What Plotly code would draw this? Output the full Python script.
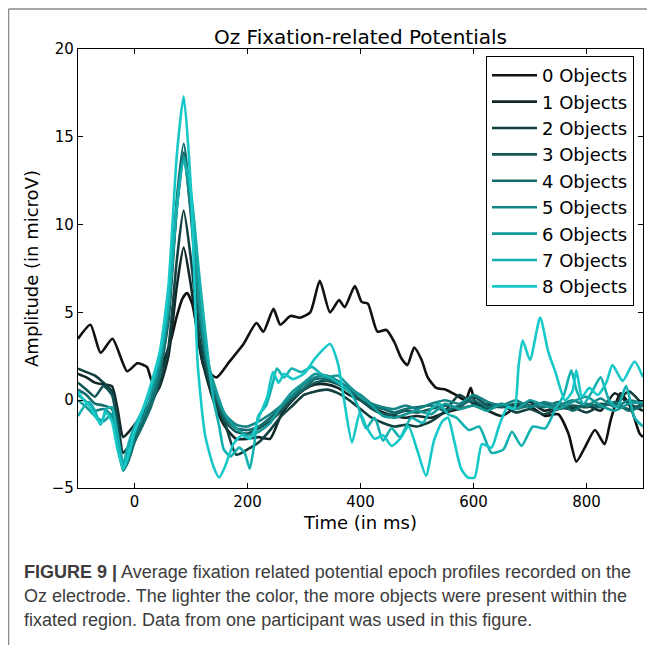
import plotly.graph_objects as go

t_obj0 = [-100, -78, -60, -39, -13, 5, 22, 31, 43, 55, 65, 75, 85, 93, 102, 112, 123, 145, 168, 193,
          216, 228, 246, 258, 276, 293, 311, 328, 346, 362, 372, 390, 402, 413, 430, 446, 460, 472,
          483, 495, 508, 519, 534, 551, 569, 586, 595, 604, 615, 632, 657, 680, 703, 727, 750, 768,
          782, 797, 815, 832, 843, 860, 878, 894, 900]
amp_obj0 = [3.5, 4.3, 2.7, 3.5, 1.65, 2.1, 1.9, 1.1, 1.5, 2.5, 3.5, 4.8, 5.8, 6.1, 5.5, 3.8, 1.9, 1.3, 2.2, 3.2,
            4.4, 3.9, 5.2, 4.3, 4.8, 4.7, 5.0, 6.8, 5.0, 5.7, 5.3, 6.5, 5.6, 5.5, 3.9, 4.0, 3.3, 2.4,
            2.0, 3.0, 2.3, 1.3, 0.7, 0.6, 0.3, 0.0, 0.7, -0.2, -0.3, -0.2, -0.4, -0.2, -0.4, -0.9, -0.8, -1.9,
            -3.5, -2.7, -1.7, -2.5, -1.1, 0.4, -0.4, -1.9, -2.1]

# shared time grid for the smoother middle curves
t_grid = [-100, -85, -70, -55, -40, -30, -20, -10, 0, 15, 30, 45, 60, 75, 87, 100, 115, 130, 145, 160,
          180, 200, 220, 240, 260, 280, 300, 320, 340, 360, 380, 400, 420, 440, 460, 480, 500, 525,
          550, 575, 600, 625, 650, 675, 700, 725, 750, 775, 800, 825, 850, 875, 900]

amp_obj1 = [1.5, 1.3, 1.0, 0.9, 0.8, -0.5, -2.1, -1.8, -1.4, -0.8, 0.0, 0.8, 2.5, 6.5, 8.7, 6.5, 3.0, 1.0, -0.5, -1.5,
            -2.2, -2.2, -2.1, -2.2, -0.8, 0.0, 0.6, 0.9, 0.9, 0.7, 0.3, 0.0, -0.4, -0.7, -0.9, -1.0, -0.9, -1.0,
            -0.7, -0.5, -0.3, -0.6, -0.9, -0.4, -0.1, -0.6, -0.4, -0.5, -0.3, -0.6, 0.4, -0.2, -0.6]
amp_obj2 = [1.8, 1.6, 1.4, 1.0, 0.5, -1.0, -3.0, -2.6, -2.0, -1.2, -0.2, 1.0, 3.0, 8.0, 10.8, 8.0, 3.5, 1.2, -0.3, -1.3,
            -3.1, -2.8, -2.4, -1.7, -0.9, -0.3, 0.3, 0.5, 0.6, 0.4, 0.0, -0.5, -1.0, -1.3, -1.5, -1.4, -1.5, -1.2,
            -0.6, 0.3, -0.2, -0.5, -0.3, -0.7, -0.5, -0.8, -0.5, -0.4, -0.7, -0.3, -0.2, 0.5, -0.3]
amp_obj3 = [1.0, 0.6, 0.2, 0.8, 0.3, -1.5, -3.6, -3.0, -2.2, -1.2, 0.0, 1.6, 4.5, 11.0, 14.1, 10.5, 4.5, 1.5, 0.0, -1.2,
            -1.8, -1.9, -1.6, -1.2, -0.6, 0.1, 0.6, 1.0, 1.1, 0.9, 0.5, 0.0, -0.5, -0.8, -0.8, -0.6, -0.7, -0.5,
            -0.3, -0.4, 0.2, -0.3, -0.4, -0.2, -0.3, -0.2, -0.5, -0.3, -0.4, -0.2, -0.3, -0.5, -0.2]
amp_obj4 = [0.6, 0.3, -0.2, -0.3, -0.5, -2.0, -4.0, -3.4, -2.4, -1.4, -0.3, 1.5, 4.8, 11.5, 14.6, 11.0, 5.0, 1.8, 0.2, -1.0,
            -1.6, -1.7, -1.5, -1.0, -0.4, 0.2, 0.7, 1.2, 1.2, 1.0, 0.6, 0.2, -0.3, -0.5, -0.7, -0.5, -0.4, -0.3,
            -0.6, -0.3, 0.0, -0.4, -0.2, -0.5, -0.3, -0.4, -0.1, -0.6, -0.2, -0.4, -0.1, -0.6, -0.3]
amp_obj5 = [0.3, -0.1, -0.6, -0.5, -0.9, -2.4, -3.8, -3.1, -2.0, -1.0, 0.2, 2.0, 5.0, 11.0, 13.7, 10.8, 5.2, 2.0, 0.3, -0.8,
            -1.4, -1.5, -1.2, -0.8, -0.3, 0.3, 0.9, 1.3, 1.4, 1.1, 0.7, 0.3, -0.2, -0.4, -0.5, -0.3, -0.5, -0.2,
            0.0, -0.2, 0.3, -0.1, -0.3, 0.0, -0.4, -0.1, -0.3, 0.0, -0.3, 0.1, -0.4, 0.0, -0.2]
amp_obj6 = [0.0, -0.4, -0.9, -1.2, -0.8, -2.5, -4.0, -3.2, -1.8, -0.6, 0.6, 2.3, 5.5, 11.2, 13.9, 11.5, 5.8, 2.2, 0.5, -0.8,
            -1.6, -2.0, -1.8, -1.3, -0.3, 0.5, 1.0, 1.5, 1.3, 1.4, 0.8, 0.2, -0.3, -0.9, -1.0, -0.8, -0.6, -0.8,
            -0.2, -0.5, -0.3, -0.6, -0.2, -0.5, 0.0, -0.3, -0.5, -0.1, 0.2, -0.3, -0.6, -0.2, -0.1]

# 7 Objects - noisier curve
t_obj7 = [-100, -90, -80, -70, -60, -50, -40, -30, -20, -10, 0, 15, 30, 45, 60, 75, 87, 100, 115, 130,
          140, 150, 158, 170, 185, 195, 204, 212, 219, 233, 245, 252, 265, 278, 295, 314, 330, 345, 360,
          380, 395, 410, 425, 440, 455, 470, 490, 510, 525, 540, 555, 570, 592, 610, 632, 653, 668, 685,
          705, 727, 745, 760, 773, 782, 795, 810, 825, 840, 855, 870, 885, 900]
amp_obj7 = [-0.9, -0.4, -0.1, -0.6, -1.4, -0.5, -0.4, -2.0, -3.6, -2.4, -1.5, -0.5, 0.8, 2.5, 5.5, 11.0, 13.6, 11.8, 7.0, 2.5,
            0.0, -1.5, -2.8, -3.2, -2.7, -3.0, -3.9, -2.5, -0.9, -0.3, 1.0, 1.8, 1.3, 1.8, 1.6, 1.9, 1.5, 1.3, 1.0,
            0.5, -0.3, -1.6, -1.0, -2.3, -1.6, -2.1, -1.0, -1.3, -0.5, -0.2, -0.8, -1.0, -1.7, -1.5, -3.0, -2.8, -1.8, -2.6,
            -1.5, -1.6, -0.5, 0.3, 1.7, 0.6, -0.2, 0.5, 1.3, 0.0, -0.4, 0.8, -1.0, -1.5]

# 8 Objects - lightest, noisiest curve
t_obj8 = [-100, -90, -80, -70, -60, -50, -40, -30, -20, -10, 0, 15, 30, 45, 60, 75, 87, 100, 112, 125,
          140, 150, 160, 175, 190, 205, 220, 235, 245, 255, 265, 280, 300, 320, 346, 360, 372, 385, 399,
          410, 425, 440, 455, 470, 485, 500, 516, 530, 545, 555, 565, 578, 590, 602, 615, 632, 645, 660,
          672, 680, 687, 700, 718, 732, 745, 762, 775, 782, 792, 805, 820, 835, 846, 864, 885, 900]
amp_obj8 = [0.5, 0.0, -0.3, -0.9, -1.3, -0.7, -1.2, -2.8, -3.9, -3.0, -1.8, -0.5, 1.0, 2.8, 6.5, 14.0, 17.3, 12.0, 2.0, -2.0,
            -3.8, -4.4, -3.8, -2.5, -2.0, -2.2, -1.0, 0.2, 1.6, 1.0, 1.5, 1.2, 1.5, 2.4, 3.2, 2.1, -0.2, -2.4, -0.7,
            -1.5, -2.2, -2.0, -2.6, -2.2, -1.5, -2.8, -4.3, -2.3, -1.2, -1.0, -2.2, -3.9, -4.4, -4.4, -2.5, -2.7, -1.5, -0.4,
            -0.5, 2.0, 3.4, 2.3, 4.7, 2.8, 1.6, 0.0, 0.5, 1.7, 0.2, 0.7, 0.3, 1.0, 2.0, 1.1, 2.2, 1.3]

series_names = ['0 Objects', '1 Objects', '2 Objects', '3 Objects', '4 Objects',
                '5 Objects', '6 Objects', '7 Objects', '8 Objects']
series_t = [t_obj0, t_grid, t_grid, t_grid, t_grid, t_grid, t_grid, t_obj7, t_obj8]
series_amp = [amp_obj0, amp_obj1, amp_obj2, amp_obj3, amp_obj4, amp_obj5, amp_obj6, amp_obj7, amp_obj8]

x_ticks = [0, 200, 400, 600, 800]
y_ticks = [-5, 0, 5, 10, 15, 20]

caption_lines = [
    '<b>FIGURE 9 |</b> Average fixation related potential epoch profiles recorded on the',
    'Oz electrode. The lighter the color, the more objects were present within the',
    'fixated region. Data from one participant was used in this figure.',
]


def shade(i, n=8):
    # black -> cyan, lighter means more objects
    f = i / n
    r = round(17 * (1 - f) + 22 * f)
    g = round(17 * (1 - f) + 200 * f)
    return f'rgb({r},{g},{g})'


fig = go.Figure()
for i, (name, t, amp) in enumerate(zip(series_names, series_t, series_amp)):
    fig.add_trace(go.Scatter(
        x=t, y=amp, name=name, mode='lines',
        line=dict(color=shade(i), width=2.6, shape='spline', smoothing=0.6)
    ))

# page has an 8px body margin; work in page pixels and convert
OFF = 8
FW, FH = 647, 637
L, T = 78 - OFF, 49 - OFF
W, H = 565, 439


def px_x(x):
    return (x - OFF - L) / W


def px_y(y):
    return (T + H - (y - OFF)) / H


# page frame (left and top border of the figure panel)
fig.add_shape(type='line', xref='paper', yref='paper',
              x0=px_x(8.5), x1=px_x(8.5), y0=px_y(9), y1=px_y(660),
              line=dict(color='#8a8a8a', width=1.5))
fig.add_shape(type='line', xref='paper', yref='paper',
              x0=px_x(8.5), x1=px_x(700), y0=px_y(9), y1=px_y(9),
              line=dict(color='#8a8a8a', width=1.5))

for k, line in enumerate(caption_lines):
    fig.add_annotation(
        text=line, xref='paper', yref='paper', x=px_x(22), y=px_y(572 + 24 * k),
        xanchor='left', yanchor='middle', showarrow=False,
        font=dict(family='Liberation Sans Narrow, Liberation Sans, sans-serif', size=18, color='#3c3c3c')
    )

axis_font = dict(family='DejaVu Sans', size=15, color='black')
fig.update_xaxes(
    range=[-100, 900], tickvals=x_ticks, showgrid=False, zeroline=False,
    showline=True, linecolor='black', linewidth=1.2, mirror='ticks',
    ticks='inside', ticklen=5, tickcolor='black', tickfont=axis_font,
    title=dict(text='Time (in ms)', font=dict(family='DejaVu Sans', size=18, color='black'), standoff=6)
)
fig.update_yaxes(
    range=[-5, 20], tickvals=y_ticks, showgrid=False, zeroline=False,
    showline=True, linecolor='black', linewidth=1.2, mirror='ticks',
    ticks='inside', ticklen=5, tickcolor='black', tickfont=axis_font,
    title=dict(text='Amplitude (in microV)', font=dict(family='DejaVu Sans', size=18, color='black'), standoff=8)
)
fig.update_layout(
    width=FW, height=FH,
    margin=dict(l=L, r=FW - L - W, t=T, b=FH - T - H),
    paper_bgcolor='white', plot_bgcolor='white',
    title=dict(text='Oz Fixation-related Potentials', x=px_x(360.5), xref='paper', xanchor='center',
               y=1 - (37 - OFF) / FH, yanchor='middle',
               font=dict(family='DejaVu Sans', size=20, color='black')),
    legend=dict(
        x=px_x(634), y=px_y(56), xanchor='right', yanchor='top',
        bordercolor='black', borderwidth=1, bgcolor='white',
        font=dict(family='DejaVu Sans', size=18, color='black'),
        tracegroupgap=0, itemwidth=45
    ),
    showlegend=True
)

fig.write_html('out.html')
